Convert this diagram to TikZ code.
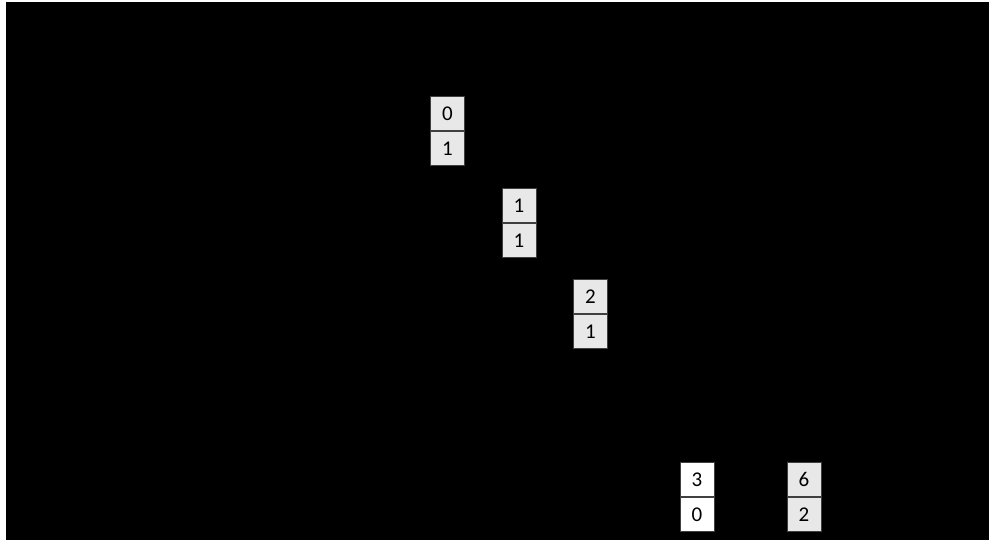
\documentclass[tikz,border=0pt]{standalone}
\usepackage{fontspec}
\setmainfont{Carlito}
\usetikzlibrary{positioning}

\begin{document}
\begin{tikzpicture}[
  x=1pt, y=-1pt,
  cell/.style={rectangle,draw=black!75,line width=1pt,fill=gray!18,
               minimum width=34pt,minimum height=34pt,inner sep=0pt,
               font=\fontsize{21}{21}\selectfont},
  wcell/.style={cell,fill=white}
]
\useasboundingbox (0,0) rectangle (989,540);
\fill[black] (6,2) rectangle (989,540);

\node[cell] (atop) at (447.5,114) {0};
\node[cell,below=0pt of atop] (abot) {1};

\node[cell] (btop) at (519,206) {1};
\node[cell,below=0pt of btop] (bbot) {1};

\node[cell] (ctop) at (590.5,296.5) {2};
\node[cell,below=0pt of ctop] (cbot) {1};

\node[wcell] (dtop) at (697,479.5) {3};
\node[wcell,below=0pt of dtop] (dbot) {0};

\node[cell] (etop) at (804,479.5) {6};
\node[cell,below=0pt of etop] (ebot) {2};
\end{tikzpicture}
\end{document}
